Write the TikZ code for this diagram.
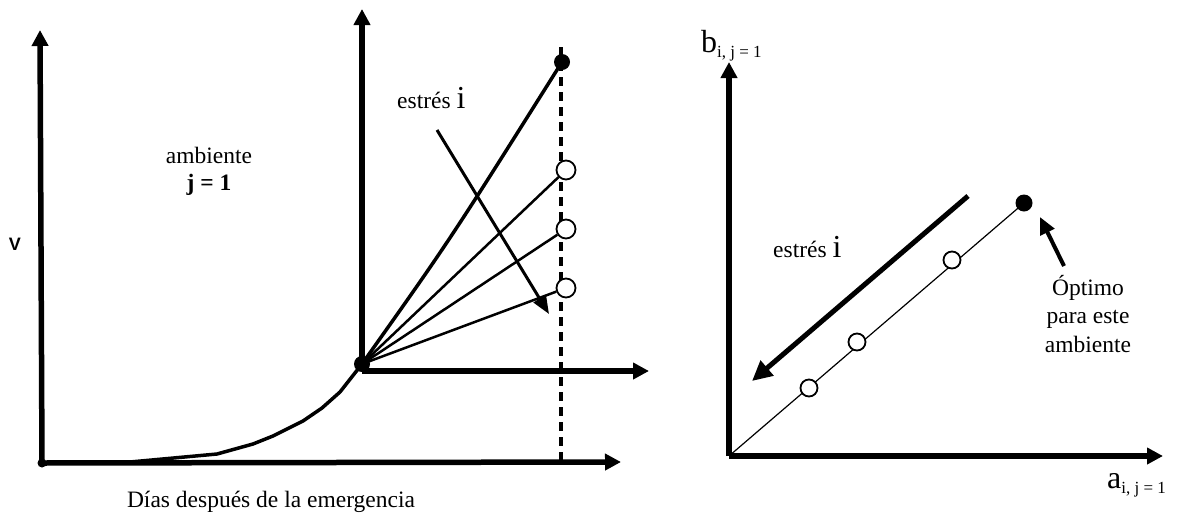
\documentclass[tikz,border=0pt]{standalone}
\usepackage{fontspec}
\setmainfont{Liberation Serif}
\newfontfamily\lsans{Liberation Sans}
\usetikzlibrary{arrows.meta}
\begin{document}
\begin{tikzpicture}[x=1pt,y=-1pt,
  axisline/.style={line width=5.5pt,-{Triangle[length=16pt,width=16pt]}},
  growth/.style={line width=3.5pt,line join=round},
  thinray/.style={line width=2.5pt},
  dashedline/.style={line width=4.5pt,dash pattern=on 9pt off 6pt},
  bigdot/.style={circle,fill=black,inner sep=0pt,minimum size=16pt},
  smalldot/.style={circle,fill=black,inner sep=0pt,minimum size=9pt},
  opendot/.style={circle,draw=black,fill=white,line width=1.8pt,inner sep=0pt,minimum size=19pt},
  stressarrow/.style={line width=3pt,-{Triangle[length=18pt,width=14pt]}},
  bigarrow/.style={line width=5pt,-{Triangle[length=20pt,width=19pt]}},
  optarrow/.style={line width=4pt,-{Triangle[length=17pt,width=15pt]}},
  lbl/.style={inner sep=0pt,font=\fontsize{23.5}{28}\selectfont},
]
\useasboundingbox (0,0) rectangle (1178,520);

% ---------------- left plot ----------------
\coordinate (Y1) at (40,30);
\coordinate (X1) at (621,462);
\node[smalldot] (O1) at (42,463) {};
\draw[axisline] (O1.center) -- (Y1);
\draw[axisline] (O1.center) -- (X1);

\coordinate (D1) at (561,47);
\coordinate (D2) at (561,463);
\draw[dashedline] (D1) -- (D2);

\node[bigdot] (O2) at (362,364) {};
\coordinate (Y2) at (362,9);
\coordinate (X2) at (649,371);
\coordinate (O2b) at (362,371);
\draw[axisline] (O2b) -- (Y2);
\draw[axisline] (O2b) -- (X2);

\draw[growth] (O1.center) -- (130,462) -- (217,454) -- (253,444) -- (273,436)
  -- (303,421) -- (322,408) -- (340,392) -- (O2.center);

\node[bigdot] (T) at (562,62) {};
\draw[growth] (O2.center) .. controls (450,240) .. (T.center);

\node[opendot] (c1) at (566,170) {};
\node[opendot] (c2) at (566,229) {};
\node[opendot] (c3) at (566,288) {};
\draw[thinray] (O2.center) -- (c1);
\draw[thinray] (O2.center) -- (c2);
\draw[thinray] (O2.center) -- (c3);

\coordinate (s1) at (437,130);
\coordinate (s2) at (549,314);
\draw[stressarrow] (s1) -- (s2);

\node[lbl,anchor=base west] (est1) at (397,108) {estrés {\fontsize{32}{32}\selectfont i}};
\node[lbl,anchor=base] (amb1) at (209,163) {ambiente};
\node[lbl,anchor=base] (jj) at (209,190) {\bfseries j = 1};
\node[inner sep=0pt,font=\lsans\bfseries\fontsize{18}{18}\selectfont] (V) at (15,244) {V};
\node[lbl,anchor=base] (dias) at (271,507) {Días después de la emergencia};

% ---------------- right plot ----------------
\coordinate (O3) at (729,456);
\coordinate (Y3) at (729,62);
\coordinate (X3) at (1163,456);
\draw[axisline] (O3) -- (Y3);
\draw[axisline] (O3) -- (X3);

\node[bigdot,minimum size=17pt] (opt) at (1024,203) {};
\draw[line width=1.2pt] (O3) -- (opt.center);
\node[opendot,minimum size=17pt] (r1) at (952,260) {};
\node[opendot,minimum size=17pt] (r2) at (857,342) {};
\node[opendot,minimum size=17pt] (r3) at (809,388) {};

\coordinate (a1) at (968,196);
\coordinate (a2) at (752,381);
\draw[bigarrow] (a1) -- (a2);

\coordinate (p1) at (1064,266);
\coordinate (p2) at (1040,217);
\draw[optarrow] (p1) -- (p2);

\node[lbl,anchor=base west] (est2) at (773,257) {estrés {\fontsize{32}{32}\selectfont i}};
\node[lbl,anchor=base] (o1) at (1088,295) {Óptimo};
\node[lbl,anchor=base] (o2) at (1088,323) {para este};
\node[lbl,anchor=base] (o3) at (1088,352) {ambiente};

\node[inner sep=0pt,anchor=base west] (blab) at (701,52)
  {{\fontsize{32}{32}\selectfont b}\raisebox{-5pt}{\fontsize{17}{17}\selectfont i, j = 1}};
\node[inner sep=0pt,anchor=base west] (alab) at (1107,488)
  {{\fontsize{32}{32}\selectfont a}\raisebox{-5pt}{\fontsize{17}{17}\selectfont i, j = 1}};
\end{tikzpicture}
\end{document}
